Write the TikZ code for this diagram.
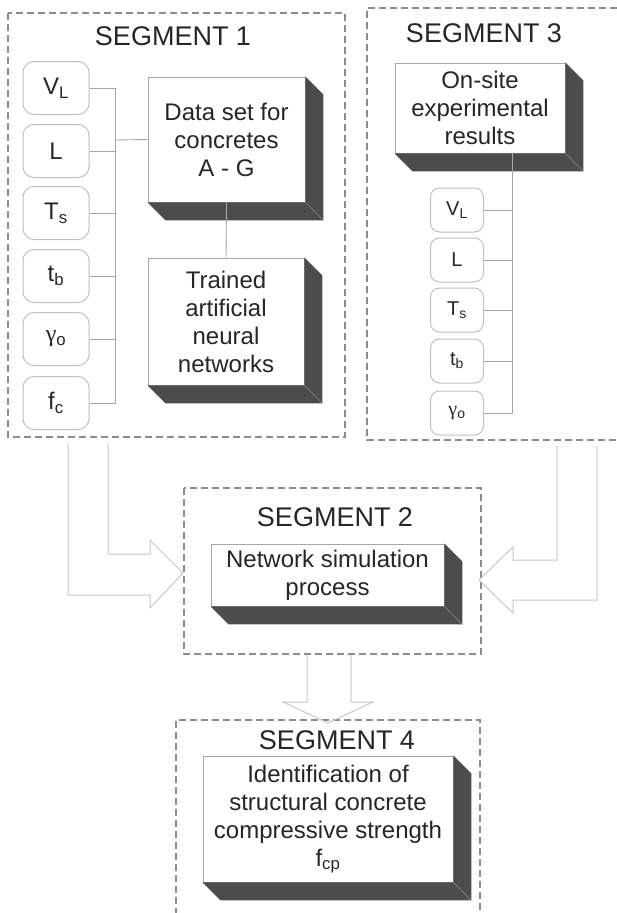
\documentclass[tikz,border=0pt]{standalone}
\usepackage{fontspec}
\setmainfont{Liberation Sans}
\newfontfamily\grk{Liberation Serif}
\usepackage{tikz}
\usetikzlibrary{calc,positioning}

\tikzset{
  segframe/.style={draw=black!45, line width=1.2pt, dash pattern=on 7pt off 4pt},
  segtitle/.style={text=black!85, font=\fontsize{27}{30}\selectfont},
  inbox/.style={draw=black!25, line width=1pt, rounded corners=11pt, inner sep=0pt,
    minimum width=66pt, minimum height=53pt, text=black!85, font=\fontsize{24}{28}\selectfont},
  inboxsm/.style={inbox, rounded corners=9pt, minimum width=53pt, minimum height=44pt,
    font=\fontsize{20}{24}\selectfont},
  slab/.style={draw=black!35, fill=white, line width=0.8pt, align=center, inner sep=0pt,
    text=black!85, font=\fontsize{24}{28}\selectfont},
  wire/.style={draw=black!35, line width=0.9pt},
  hollow/.style={draw=black!22, line width=1pt, line join=miter}
}

% dark side and bottom of a box
\newcommand{\slabshadow}[1]{%
  \fill[black!70] (#1.north east) -- ++(18,18) -- ($(#1.south east)+(18,18)$)
    -- ($(#1.south west)+(18,18)$) -- (#1.south west) -- (#1.south east) -- cycle;
  \draw[black!45, line width=0.6pt] (#1.south east) -- ++(18,18);}

\begin{document}
\begin{tikzpicture}[x=1pt,y=-1pt]
  \useasboundingbox (0,0) rectangle (616,913);

  % segment frames
  \draw[segframe] (8,13) rectangle (345,437);
  \draw[segframe] (617,8) -- (367,8) -- (367,440) -- (617,440);
  \draw[segframe] (184,488) rectangle (481,654);
  \draw[segframe] (176,915) -- (176,720) -- (480,720) -- (480,915);

  \node[segtitle] (t1) at (173,36) {SEGMENT 1};
  \node[segtitle] (t3) at (484,33) {SEGMENT 3};
  \node[segtitle] (t2) at (335,517) {SEGMENT 2};
  \node[segtitle] (t4) at (337,740) {SEGMENT 4};

  % segment 1 inputs
  \node[inbox] (vl1) at (56,88)  {V\textsubscript{L}};
  \node[inbox] (l1)  at (56,151) {L};
  \node[inbox] (ts1) at (56,213) {T\textsubscript{s}};
  \node[inbox] (tb1) at (56,276) {t\textsubscript{b}};
  \node[inbox] (go1) at (56,339) {{\grk γ}\textsubscript{o}};
  \node[inbox] (fc1) at (56,403) {f\textsubscript{c}};

  % segment 3 inputs
  \node[inboxsm] (vl3) at (457,210) {V\textsubscript{L}};
  \node[inboxsm] (l3)  at (457,260) {L};
  \node[inboxsm] (ts3) at (457,310) {T\textsubscript{s}};
  \node[inboxsm] (tb3) at (457,361) {t\textsubscript{b}};
  \node[inboxsm] (go3) at (457,413) {{\grk γ}\textsubscript{o}};

  % solid boxes
  \node[slab, minimum width=157pt, minimum height=125pt] (data) at (226.5,139.5)
    {Data set for\\concretes\\A - G};
  \node[slab, minimum width=156pt, minimum height=127pt] (trained) at (226,321.5)
    {Trained\\artificial\\neural\\networks};
  \node[slab, minimum width=170pt, minimum height=90pt] (onsite) at (480,108)
    {On-site\\experimental\\results};
  \node[slab, minimum width=233pt, minimum height=62pt] (sim) at (327.5,575)
    {Network simulation\\process};
  \node[slab, minimum width=250pt, minimum height=126pt] (ident) at (328,819)
    {Identification of\\structural concrete\\compressive strength\\f\textsubscript{cp}};

  \slabshadow{data}
  \slabshadow{trained}
  \slabshadow{onsite}
  \slabshadow{sim}
  \slabshadow{ident}

  % connectors
  \coordinate (bus1) at (115,140);
  \coordinate (bus3) at (512,0);
  \draw[wire] (vl1.east) -- (vl1.east -| bus1) -- (fc1.east -| bus1) -- (fc1.east);
  \draw[wire] (l1.east) -- (l1.east -| bus1);
  \draw[wire] (ts1.east) -- (ts1.east -| bus1);
  \draw[wire] (tb1.east) -- (tb1.east -| bus1);
  \draw[wire] (go1.east) -- (go1.east -| bus1);
  \draw[wire] (bus1) -- (data.west);
  \draw[wire] (data.south) -- (trained.north);

  \draw[wire] (onsite.south -| bus3) -- (go3.east -| bus3) -- (go3.east);
  \draw[wire] (vl3.east) -- (vl3.east -| bus3);
  \draw[wire] (l3.east) -- (l3.east -| bus3);
  \draw[wire] (ts3.east) -- (ts3.east -| bus3);
  \draw[wire] (tb3.east) -- (tb3.east -| bus3);

  % hollow arrows into segments 2 and 4
  \draw[hollow] (68,443) -- (68,595) -- (150,595) -- (150,608) -- (183,573)
    -- (150,540) -- (150,554) -- (108,554) -- (108,443);
  \draw[hollow] (557,446) -- (557,560) -- (513,560) -- (513,547) -- (479,580)
    -- (513,613) -- (513,600) -- (597,600) -- (597,446);
  \draw[hollow] (307,655) -- (307,702) -- (283,702) -- (328,723) -- (373,702)
    -- (351,702) -- (351,655);
\end{tikzpicture}
\end{document}
